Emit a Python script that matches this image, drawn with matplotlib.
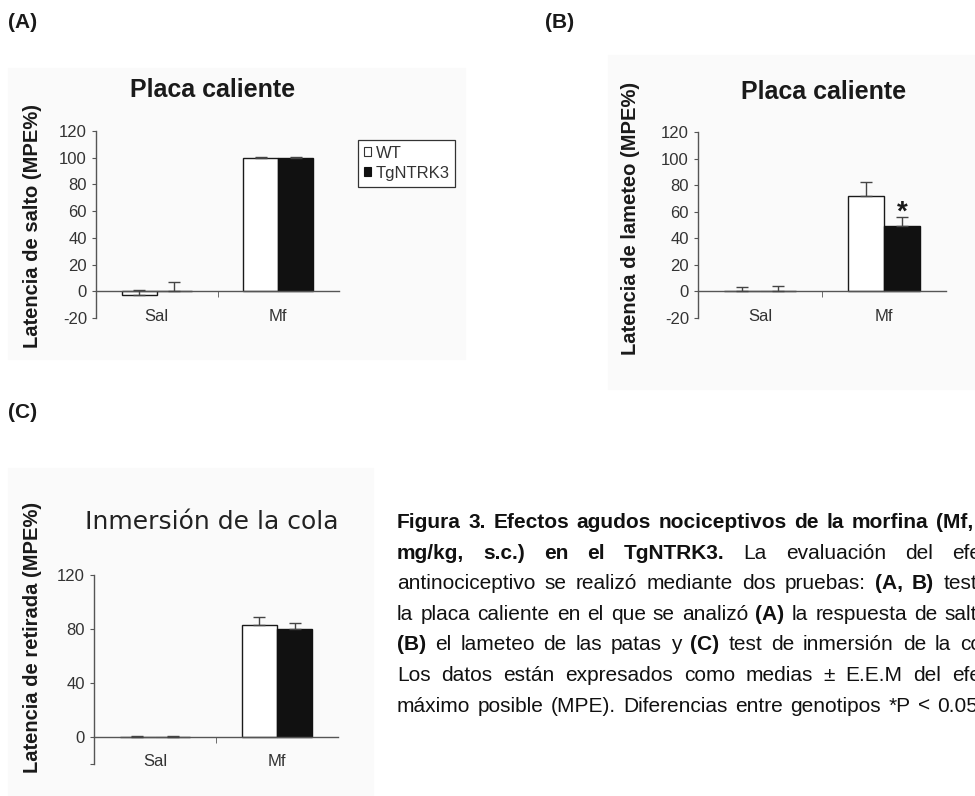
import numpy as np
import matplotlib
matplotlib.use("Agg")
import matplotlib.pyplot as plt
from matplotlib.patches import Patch, Rectangle

plt.rcParams['font.family'] = ['Liberation Sans', 'DejaVu Sans']

groups = ['Sal', 'Mf']
genotypes = ['WT', 'TgNTRK3']

# (A) placa caliente - salto
salto_wt = [-2.5, 100]
salto_wt_err = [3.5, 0.3]
salto_tg = [0.3, 100]
salto_tg_err = [7, 0.3]

# (B) placa caliente - lameteo
lameteo_wt = [0, 72]
lameteo_wt_err = [3, 10]
lameteo_tg = [0, 49]
lameteo_tg_err = [4, 7]

# (C) inmersion de la cola
retirada_wt = [0, 83]
retirada_wt_err = [0.4, 6]
retirada_tg = [0, 80]
retirada_tg_err = [0.4, 4.5]

caption = [
    [("Figura 3. Efectos agudos nociceptivos de la morfina (Mf,", True)],
    [("mg/kg, s.c.) en el TgNTRK3.", True), ("La evaluación del efe", False)],
    [("antinociceptivo se realizó mediante dos pruebas:", False), ("(A, B)", True), ("test", False)],
    [("la placa caliente en el que se analizó", False), ("(A)", True), ("la respuesta de salt", False)],
    [("(B)", True), ("el lameteo de las patas y", False), ("(C)", True), ("test de inmersión de la co", False)],
    [("Los datos están expresados como medias ± E.E.M del efe", False)],
    [("máximo posible (MPE). Diferencias entre genotipos *P < 0.05", False)],
]
caption_right = [973, 981, 977, 977, 982, 981, 978]

W, H = 975, 796
fig = plt.figure(figsize=(W / 100, H / 100), dpi=100)
fig.patch.set_facecolor('white')


def fx(x):
    return x / W


def fy(y):
    return 1 - y / H


def rect(x0, y0, x1, y1):
    return [fx(x0), fy(y1), (x1 - x0) / W, (y1 - y0) / H]


# faint scanned panel backgrounds
for x0, y0, x1, y1 in [(8, 68, 465, 359), (608, 55, 975, 389), (8, 468, 373, 796)]:
    fig.add_artist(Rectangle((fx(x0), fy(y1)), (x1 - x0) / W, (y1 - y0) / H,
                             transform=fig.transFigure, color='#fafafa', zorder=0))


def panel(box, wt, wt_err, tg, tg_err, yticks, ylabels, label_pad):
    ax = fig.add_axes(rect(*box))
    ax.set_facecolor('none')
    x = np.arange(len(groups))
    w = 0.288
    ax.bar(x - w / 2, wt, w, color='white', edgecolor='#1a1a1a', lw=1, zorder=2)
    ax.bar(x + w / 2, tg, w, color='#111111', edgecolor='#111111', lw=1, zorder=2)
    ax.errorbar(x - w / 2, wt, yerr=[np.zeros(len(x)), wt_err], fmt='none',
                ecolor='#444444', elinewidth=1, capsize=4, capthick=1, zorder=3)
    ax.errorbar(x + w / 2, tg, yerr=[np.zeros(len(x)), tg_err], fmt='none',
                ecolor='#444444', elinewidth=1, capsize=4, capthick=1, zorder=3)
    ax.set_xlim(-0.5, 1.5)
    ax.set_ylim(yticks[0], yticks[-1])
    for s in ['top', 'right']:
        ax.spines[s].set_visible(False)
    ax.spines['bottom'].set_position(('data', 0))
    for s in ['left', 'bottom']:
        ax.spines[s].set_color('#555555')
        ax.spines[s].set_linewidth(1)
    ax.set_yticks(yticks, ylabels)
    ax.set_xticks(x, groups)
    ax.set_xticks([0.5], minor=True)
    ax.tick_params(axis='x', which='major', length=0, pad=label_pad,
                   labelsize=12, labelcolor='#333333')
    ax.tick_params(axis='x', which='minor', length=4, direction='out', color='#555555')
    ax.tick_params(axis='y', length=3, color='#555555', labelsize=12,
                   labelcolor='#333333', pad=3.5)
    return ax, x, w


# (A)
yt = [-20, 0, 20, 40, 60, 80, 100, 120]
axA, x, w = panel((96, 131, 339, 318), salto_wt, salto_wt_err, salto_tg, salto_tg_err,
                  yt, [str(v) for v in yt], 12.5)
fig.text(fx(213), fy(90), 'Placa caliente', fontsize=18, fontweight='bold',
         ha='center', va='center', color='#1a1a1a')
fig.text(fx(33), fy(226), 'Latencia de salto (MPE%)', fontsize=14.5, fontweight='bold',
         rotation=90, ha='center', va='center', color='#1a1a1a')
handles = [Patch(facecolor='white', edgecolor='#333333', lw=0.8),
           Patch(facecolor='#111111', edgecolor='#111111', lw=0.8)]
leg = fig.legend(handles, genotypes, loc='upper left',
                 bbox_to_anchor=(fx(358), fy(140)), bbox_transform=fig.transFigure,
                 fontsize=12, handlelength=0.45, handleheight=0.45, handletextpad=0.25,
                 labelspacing=0.3, borderpad=0.35, borderaxespad=0, fancybox=False,
                 framealpha=1)
leg.get_frame().set_edgecolor('#333333')
leg.get_frame().set_linewidth(0.9)
for t in leg.get_texts():
    t.set_color('#333333')

# (B)
axB, x, w = panel((698, 132, 946, 318), lameteo_wt, lameteo_wt_err, lameteo_tg, lameteo_tg_err,
                  yt, [str(v) for v in yt], 12.5)
axB.text(1 + w / 2, 59, '*', fontsize=20, fontweight='bold', ha='center', va='center',
         color='#1a1a1a')
fig.text(fx(824), fy(92), 'Placa caliente', fontsize=18, fontweight='bold',
         ha='center', va='center', color='#1a1a1a')
fig.text(fx(630), fy(218), 'Latencia de lameteo (MPE%)', fontsize=14.5, fontweight='bold',
         rotation=90, ha='center', va='center', color='#1a1a1a')

# (C)
ytc = [-20, 0, 40, 80, 120]
axC, x, w = panel((94, 575, 338, 764), retirada_wt, retirada_wt_err, retirada_tg, retirada_tg_err,
                  ytc, ['', '0', '40', '80', '120'], 12)
fig.text(fx(212), fy(522), 'Inmersión de la cola', fontsize=18, family='DejaVu Sans',
         ha='center', va='center', color='#222222')
fig.text(fx(33), fy(637), 'Latencia de retirada (MPE%)', fontsize=14.5, fontweight='bold',
         rotation=90, ha='center', va='center', color='#1a1a1a')

# panel letters
for lab, px, py in [('(A)', 8, 22), ('(B)', 545, 22), ('(C)', 8, 412)]:
    fig.text(fx(px), fy(py), lab, fontsize=15, fontweight='bold', ha='left', va='center',
             color='#1a1a1a')

# caption, justified word by word
renderer = fig.canvas.get_renderer()


def caption_line(segments, y, right, left=397, size=15):
    words = []
    for txt, bold in segments:
        for wd in txt.split(' '):
            words.append((wd, bold))
    arts, widths = [], []
    for wd, bold in words:
        t = fig.text(0, fy(y), wd, fontsize=size, fontweight='bold' if bold else 'normal',
                     ha='left', va='baseline', color='#111111')
        widths.append(t.get_window_extent(renderer).width)
        arts.append(t)
    gap = (right - left - sum(widths)) / max(len(words) - 1, 1)
    xx = left
    for t, wd in zip(arts, widths):
        t.set_x(fx(xx))
        xx += wd + gap


for i, segs in enumerate(caption):
    caption_line(segs, 528 + 30.6 * i, caption_right[i])

fig.savefig('out.png', dpi=100)
